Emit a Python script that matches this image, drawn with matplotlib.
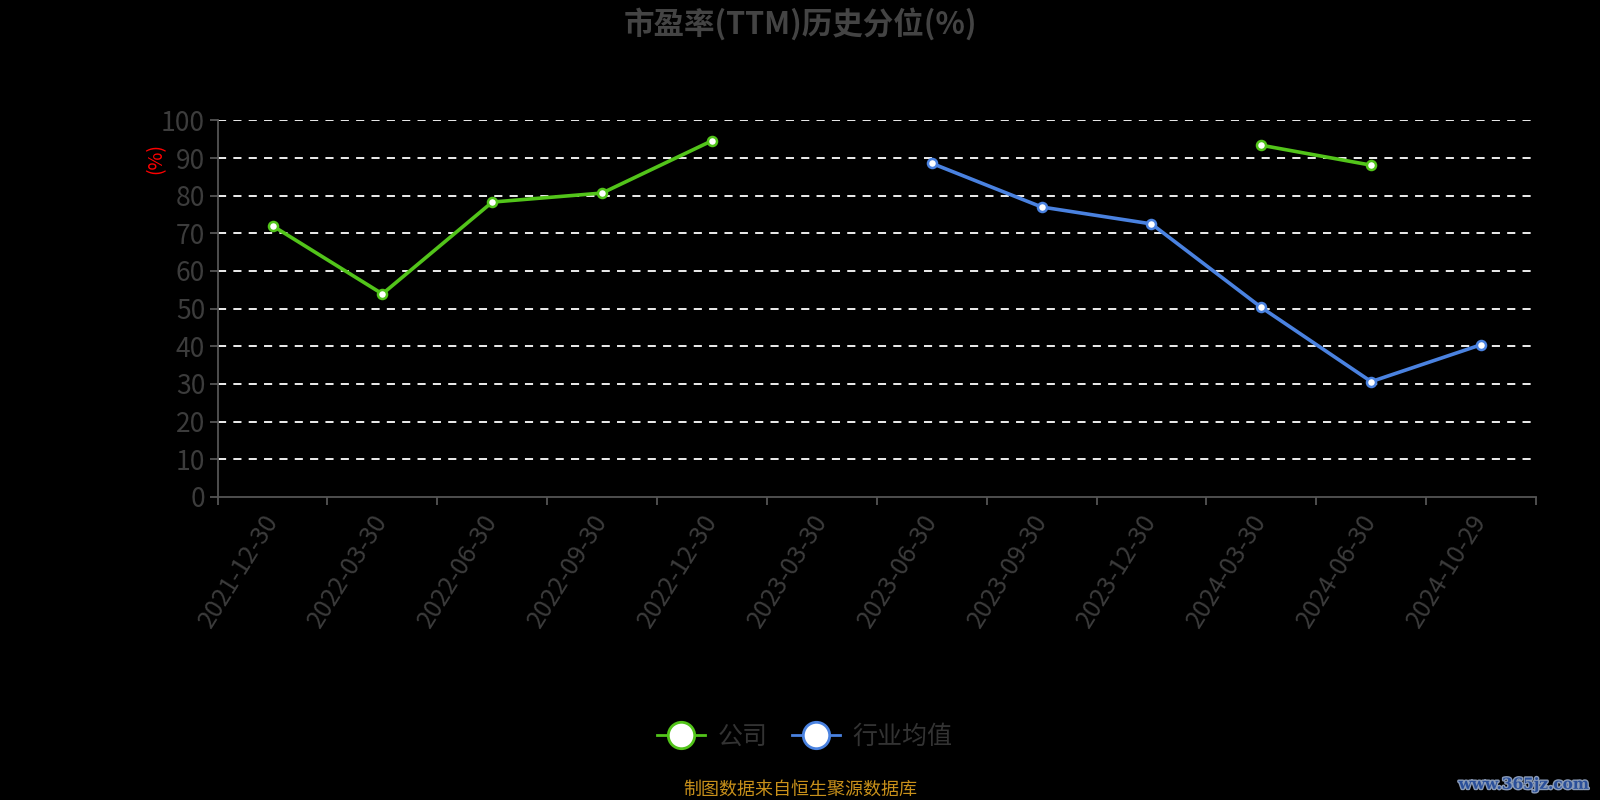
import matplotlib
matplotlib.use("Agg")
import matplotlib.pyplot as plt
import matplotlib.patheffects as pe
from matplotlib.lines import Line2D
import numpy as np

plt.rcParams['font.family'] = ['Noto Sans CJK SC', 'DejaVu Sans']

categories = ["2021-12-30", "2022-03-30", "2022-06-30", "2022-09-30", "2022-12-30",
              "2023-03-30", "2023-06-30", "2023-09-30", "2023-12-30", "2024-03-30",
              "2024-06-30", "2024-10-29"]
company = [72.0, 53.9, 78.3, 80.7, 94.6, None, None, None, None, 93.4, 88.1, None]
industry = [None, None, None, None, None, None, 88.6, 77.0, 72.5, 50.3, 30.6, 40.4]
yticks = [0, 10, 20, 30, 40, 50, 60, 70, 80, 90, 100]

title = "市盈率(TTM)历史分位(%)"
legend_labels = ["公司", "行业均值"]
source = "制图数据来自恒生聚源数据库"

green = "#52c41a"
blue = "#4a82e0"
gray = "#3c3c3c"

fig = plt.figure(figsize=(16, 8), dpi=100, facecolor="black")
ax = fig.add_axes([0.136, 0.379, 0.824, 0.4705])
ax.set_facecolor("black")

x = np.arange(len(categories))
def to_arr(v):
    return np.array([np.nan if a is None else a for a in v], dtype=float)

yc = to_arr(company)
yi = to_arr(industry)

ax.plot(x, yc, color=green, lw=2.6, marker="o", ms=6.5, mfc="white", mec=green, mew=1.8, zorder=4)
ax.plot(x, yi, color=blue, lw=2.6, marker="o", ms=6.5, mfc="white", mec=blue, mew=1.8, zorder=4)

ax.set_xlim(-0.5, len(categories) - 0.5)
ax.set_ylim(0, 100)
ax.set_yticks(yticks)
ax.set_yticklabels([str(t) for t in yticks], color=gray, fontsize=19)
for t in yticks[1:]:
    ax.axhline(t, color="white", lw=1.3, ls=(0, (4.5, 4)), zorder=1)

ax.set_xticks(np.arange(len(categories) + 1) - 0.5, minor=False)
ax.set_xticklabels([""] * (len(categories) + 1))
ax.set_xticks(x, minor=True)
ax.set_xticklabels(categories, minor=True, rotation=58, ha="right", va="center",
                   rotation_mode="anchor", color=gray, fontsize=18)
ax.tick_params(axis="x", which="minor", length=0, pad=14)
ax.tick_params(axis="x", which="major", length=6, color="#555555", width=1.3)
ax.tick_params(axis="y", length=6, color="#555555", width=1.3, pad=3)

for s in ["top", "right"]:
    ax.spines[s].set_visible(False)
for s in ["left", "bottom"]:
    ax.spines[s].set_color("#555555")
    ax.spines[s].set_linewidth(1.3)

ax.set_ylabel("(%)", color="red", fontsize=14, labelpad=2)
ax.yaxis.set_label_coords(-0.039, 0.9)

fig.text(0.5, 0.97, title, ha="center", va="center", color="#444444", fontsize=22, fontweight="bold")

handles = [Line2D([0], [0], color=green, lw=2, marker="o", ms=19, mfc="white", mec=green, mew=2),
           Line2D([0], [0], color=blue, lw=2, marker="o", ms=19, mfc="white", mec=blue, mew=2)]
leg = fig.legend(handles, legend_labels, loc="center", bbox_to_anchor=(0.503, 0.0795),
                 ncol=2, frameon=False, fontsize=18, handlelength=1.9, columnspacing=1.0,
                 handletextpad=0.5)
for t in leg.get_texts():
    t.set_color("#333333")

fig.text(0.5, 0.013, source, ha="center", va="center", color="#c8901a", fontsize=13)

fig.text(0.993, 0.019, "www.365jz.com", ha="right", va="center", color="#2a4f9a",
         fontsize=11, fontweight="bold", family="DejaVu Serif",
         path_effects=[pe.withStroke(linewidth=2, foreground="#8a9bb8")])

fig.savefig("out.png", dpi=100, facecolor="black")
